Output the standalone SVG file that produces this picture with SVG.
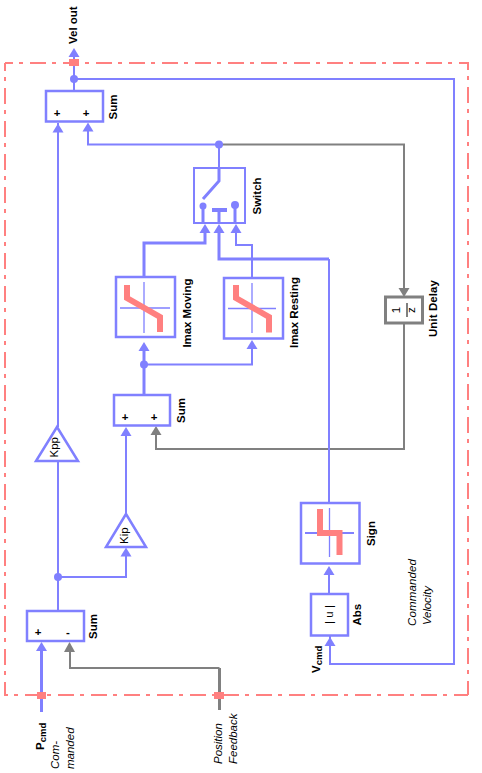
<svg xmlns="http://www.w3.org/2000/svg" width="482" height="773" viewBox="0 0 482 773">
<style>
.b{fill:#fff;stroke:#8080ff;stroke-width:2.500}
.w{fill:none;stroke:#8080ff;stroke-width:2}
.t{fill:none;stroke:#8080ff;stroke-width:3}
.g{fill:none;stroke:#808080;stroke-width:2}
.gt{fill:none;stroke:#808080;stroke-width:3}
.a{fill:#8080ff}
.ag{fill:#808080}
.r{fill:none;stroke:#ff8080;stroke-width:2;stroke-dasharray:16 6 4 7;stroke-dashoffset:8}
.rf{fill:#ff8080}
.th{fill:none;stroke:#8080ff;stroke-width:1.300}
.cv{fill:none;stroke:#ff8080;stroke-width:6}
text{font-family:"Liberation Sans",Arial,sans-serif;font-size:11.500px;fill:#000}
.bd{font-weight:bold}
.it{font-style:italic}
.sub{font-size:9.500px}
</style>
<defs>
<path id="up" d="M0 0L-5.500 9H5.500Z"/>
</defs>
<g id="boundary">
<path class="r" d="M5 63H468V695"/>
<path class="r" d="M5 63V695H468"/>
</g>
<g id="connectors">
<path class="w" d="M74 91V56"/>
<path class="w" d="M74 79H454V664H330V645"/>
<path class="w" d="M58 123V427M58 460V611"/>
<path class="w" d="M58 577H126V556"/>
<path class="w" d="M126 515V435"/>
<path class="w" d="M88 130V144.500H219V168"/>
<path class="g" d="M219 144.500H404V290"/>
<path class="g" d="M404 323V449H156V433"/>
<path class="t" d="M144 395V350"/>
<path class="w" d="M144 364.500H252V345"/>
<path class="t" d="M144 277V243H205V232"/>
<path class="w" d="M252 278V245H236V232"/>
<path class="t" d="M219 232V259H329"/>
<path class="w" d="M329 259V503"/>
<path class="w" d="M329 594V573"/>
<path class="w" d="M330 640V636"/>
<path class="t" d="M41.500 649V712"/>
<path class="g" d="M70 650V668H219.500"/>
<path class="gt" d="M219.500 668V710"/>
<use href="#up" class="a" x="74" y="48"/>
<use href="#up" class="a" x="58" y="123.500"/>
<use href="#up" class="a" x="88" y="122.500"/>
<use href="#up" class="a" x="205" y="224"/>
<use href="#up" class="a" x="219" y="224"/>
<use href="#up" class="a" x="236" y="224"/>
<use href="#up" class="a" x="144" y="342"/>
<use href="#up" class="a" x="252" y="340"/>
<use href="#up" class="a" x="126" y="427"/>
<use href="#up" class="a" x="126" y="547.500"/>
<use href="#up" class="a" x="329" y="566"/>
<use href="#up" class="a" x="330" y="637"/>
<use href="#up" class="a" x="41.500" y="642"/>
<path class="ag" d="M69.500 642L64 652H75Z"/>
<path class="ag" d="M404 297L398.500 288H409.500Z"/>
<path class="ag" d="M156 426L150.500 435H161.500Z"/>
<circle class="a" cx="74" cy="79" r="4"/>
<circle class="a" cx="219" cy="144.500" r="4"/>
<circle class="a" cx="144" cy="364.500" r="4"/>
<circle class="a" cx="58" cy="577" r="4"/>
<rect class="rf" x="69" y="59" width="10" height="7"/>
<rect class="rf" x="37" y="692" width="9" height="7"/>
<rect class="rf" x="214" y="692" width="10" height="7"/>
</g>
<g id="sum-top"><rect class="b" x="46" y="91" width="57" height="30.500"/><text class="bd" x="57" y="117" text-anchor="middle">+</text><text class="bd" x="86" y="117" text-anchor="middle">+</text><text class="bd" transform="translate(117,119.500) rotate(-90)">Sum</text></g>
<g id="switch"><rect x="194" y="168" width="51" height="55" fill="#fff" stroke="#8080ff" stroke-width="2"/>
<path class="t" d="M219 168V181L203 199"/><path class="t" d="M203 205V222M219 210V222"/><path d="M212 210H227" stroke="#8080ff" stroke-width="4"/><path class="t" d="M235 205V222"/><circle class="a" cx="203" cy="206" r="3.500"/><circle class="a" cx="235" cy="205" r="4"/>
<text class="bd" transform="translate(261,214.500) rotate(-90)">Switch</text></g>
<g id="imax-moving"><rect class="b" x="116" y="277" width="59" height="60"/><path class="th" d="M120 308H170M144 282V333"/><path class="cv" d="M127 285V298L160 317V332"/><text class="bd" textLength="69" transform="translate(191,347.500) rotate(-90)">Imax Moving</text></g>
<g id="imax-resting"><rect class="b" x="224" y="278" width="59" height="60.500"/><path class="th" d="M228 308.500H276M252 283V333"/><path class="cv" d="M236 285V298L269 317V332.500"/><text class="bd" textLength="71" transform="translate(298,348) rotate(-90)">Imax Resting</text></g>
<g id="unit-delay"><rect x="385.500" y="297" width="37" height="26" fill="#fff" stroke="#808080" stroke-width="3"/><text x="0" y="0" text-anchor="middle" transform="translate(400,310) rotate(-90)">1</text><path d="M407 303V317" stroke="#808080" stroke-width="2"/><text x="0" y="0" text-anchor="middle" transform="translate(415,310) rotate(-90)">z</text><text class="bd" textLength="57" transform="translate(437,337) rotate(-90)">Unit Delay</text></g>
<g id="sum-mid"><rect class="b" x="114" y="395" width="56" height="30.500"/><text class="bd" x="125" y="421" text-anchor="middle">+</text><text class="bd" x="154" y="421" text-anchor="middle">+</text><text class="bd" transform="translate(185,423) rotate(-90)">Sum</text></g>
<g id="kpp"><path class="b" stroke-width="2" d="M57 427L36 461H78Z"/><text transform="translate(58,457.500) rotate(-90)">Kpp</text></g>
<g id="kip"><path class="b" stroke-width="2" d="M126 514L106 547H146Z"/><text transform="translate(128,544) rotate(-90)">Kip</text></g>
<g id="sign"><rect class="b" x="301" y="503" width="58.500" height="60.500"/><path d="M305 533H354" stroke="#8080ff" stroke-width="2"/><path class="th" d="M329.500 508V557"/><path class="cv" d="M320 509V533H339.500V555"/><text class="bd" transform="translate(375,546) rotate(-90)">Sign</text></g>
<g id="abs"><rect class="b" x="311" y="594" width="37" height="41.500"/><text x="0" y="0" text-anchor="middle" transform="translate(333,614.500) rotate(-90)">| u |</text><text class="bd" transform="translate(361,625.500) rotate(-90)">Abs</text></g>
<g id="sum-bottom"><rect class="b" x="27" y="611" width="57" height="30"/><text class="bd" x="38" y="636" text-anchor="middle">+</text><text class="bd" x="68" y="636" text-anchor="middle">-</text><text class="bd" transform="translate(97,639) rotate(-90)">Sum</text></g>
<g id="labels">
<text class="bd" transform="translate(77,44) rotate(-90)">Vel out</text>
<text class="it" textLength="67" transform="translate(416,626) rotate(-90)">Commanded</text>
<text class="it" textLength="39" transform="translate(431,625) rotate(-90)">Velocity</text>
<text class="bd" transform="translate(320,673) rotate(-90)">V<tspan class="sub" dy="2">cmd</tspan></text>
<text class="bd" transform="translate(44,750) rotate(-90)">P<tspan class="sub" dy="2">cmd</tspan></text>
<text class="it" transform="translate(59,769) rotate(-90)">Com-</text>
<text class="it" transform="translate(74,769) rotate(-90)">manded</text>
<text class="it" transform="translate(222,764) rotate(-90)">Position</text>
<text class="it" transform="translate(237,764) rotate(-90)">Feedback</text>
</g>
</svg>
